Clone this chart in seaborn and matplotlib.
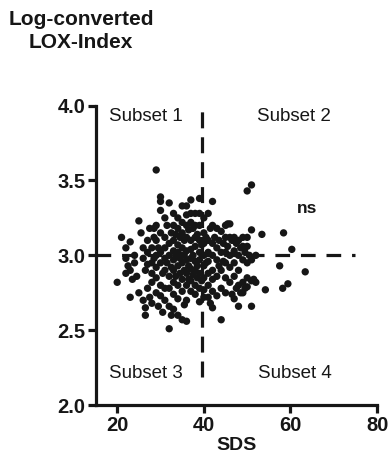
import matplotlib
matplotlib.use("Agg")
import matplotlib.pyplot as plt
import seaborn as sns
import pandas as pd

sds = [
    20, 21, 22, 22, 22.5, 23, 23, 23, 23.5, 24, 24, 24.5, 22,
    25, 25.5, 25, 26, 26, 26, 26.5, 26.5, 26.5, 27, 27, 27, 27, 27.5, 27.5, 28, 28, 28, 28, 28, 28.5, 28.5, 28.5,
    29, 29, 29, 29, 29, 29, 29, 29.5, 29.5, 30, 30, 30, 30, 30, 30, 30, 30, 30.5, 30.5, 31, 31, 31, 31, 31, 31, 31, 31.5, 31.5,
    32, 32, 32, 32, 32, 32, 32, 32.5, 32.5, 32.5,
    33, 33, 33, 33, 33, 33, 33, 33, 33, 33.5, 33.5, 33.5, 34, 34, 34, 34, 34, 34, 34, 34, 34.5, 34.5, 34.5,
    35, 35, 35, 35, 35, 35, 35, 35, 35, 35.5, 35.5, 35.5, 36, 36, 36, 36, 36, 36, 36, 36, 36, 36, 36.5, 36.5, 36.5,
    37, 37, 37, 37, 37, 37, 37, 37, 37, 37.5, 37.5, 37.5, 38, 38, 38, 38, 38, 38, 38, 38, 38.5, 38.5, 38.5,
    39, 39, 39, 39, 39, 39, 39, 39, 39, 39.5, 39.5, 40, 40, 40, 40, 40, 40, 40, 40, 40.5, 40.5,
    41, 41, 41, 41, 41, 41, 41, 41.5, 41.5, 42, 42, 42, 42, 42, 42, 42, 42, 42.5, 43, 43, 43, 43, 43, 43.5, 43.5,
    44, 44, 44, 44, 44, 44.5, 44.5,
    45, 45, 45, 45, 45, 45, 45.5, 45.5, 46, 46, 46, 46, 46, 46.5, 46.5, 47, 47, 47, 47, 47, 47.5, 47.5,
    48, 48, 48, 48, 48, 48.5, 48.5,
    49, 49, 49, 49, 49, 49.5, 49.5, 50, 50, 50, 50, 50, 50, 50.5, 51, 51, 51, 51, 51, 51.5, 52, 52, 53.4, 54.2,
    57.5, 58.4, 58.2, 59.4, 60.3, 63.4,
]
lox = [
    2.82, 3.12, 3.05, 2.98, 2.93, 2.90, 3.09, 2.72, 2.84, 3.00, 2.95, 2.86, 2.88,
    3.23, 3.15, 2.75, 2.70, 3.05, 2.98, 2.90, 2.65, 2.60, 3.10, 3.02, 2.94, 2.78, 2.72, 3.18, 3.05, 2.95, 2.88, 2.82, 2.68, 3.18, 2.98, 3.12,
    3.57, 3.20, 3.10, 3.00, 2.92, 2.85, 2.75, 2.66, 3.05, 3.39, 3.36, 3.30, 3.15, 3.02, 2.95, 2.80, 2.73, 2.62, 2.88, 3.25, 3.12, 3.05, 2.98, 2.90, 2.78, 2.70, 3.20, 2.95,
    3.35, 3.08, 3.00, 2.86, 2.78, 2.66, 2.51, 2.60, 3.15, 2.92,
    3.28, 3.20, 3.10, 3.03, 2.97, 2.90, 2.82, 2.74, 2.64, 3.14, 3.00, 2.86, 3.25, 3.18, 3.07, 3.02, 2.93, 2.80, 2.71, 2.60, 3.12, 2.98, 2.88,
    3.33, 3.22, 3.15, 3.05, 3.00, 2.95, 2.84, 2.76, 2.57, 3.10, 2.90, 2.67, 3.33, 3.27, 3.20, 3.12, 3.03, 2.97, 2.88, 2.80, 2.70, 2.56, 3.17, 2.93, 2.84,
    3.37, 3.28, 3.22, 3.10, 3.04, 2.98, 2.91, 2.83, 2.76, 3.18, 3.00, 2.87, 3.28, 3.20, 3.12, 3.06, 2.96, 2.90, 2.80, 2.74, 3.14, 2.93, 2.85,
    3.38, 3.28, 3.20, 3.10, 3.02, 2.97, 2.88, 2.78, 2.69, 3.07, 2.83, 3.25, 3.15, 3.08, 3.00, 2.93, 2.85, 2.77, 2.72, 3.12, 2.95,
    3.28, 3.10, 3.02, 2.96, 2.88, 2.80, 2.72, 3.18, 2.68, 3.36, 3.20, 3.08, 3.00, 2.90, 2.84, 2.76, 2.65, 3.12, 3.18, 3.05, 2.97, 2.86, 2.73, 3.10, 2.93,
    3.16, 3.02, 2.90, 2.78, 2.57, 3.08, 2.96,
    3.20, 3.12, 3.02, 2.95, 2.85, 2.75, 3.21, 3.06, 3.21, 3.12, 3.00, 2.92, 2.82, 3.10, 2.74, 3.12, 3.03, 2.95, 2.86, 2.71, 3.08, 2.78,
    3.10, 3.00, 2.90, 2.80, 2.66, 2.75, 3.05,
    3.12, 3.06, 2.97, 2.82, 2.75, 3.02, 2.78, 3.43, 3.12, 3.06, 2.95, 2.85, 2.79, 3.00, 3.47, 3.17, 2.97, 2.83, 2.66, 2.84, 3.00, 2.82, 3.14, 2.77,
    2.93, 3.15, 2.78, 2.81, 3.04, 2.89,
]

x_ticks = [20, 40, 60, 80]
y_ticks = [2.0, 2.5, 3.0, 3.5, 4.0]
subset_labels = ["Subset 1", "Subset 2", "Subset 3", "Subset 4"]

df = pd.DataFrame({"SDS": sds, "LOX": lox})

sns.set_theme(style="white")
plt.rcParams["font.family"] = ["Liberation Sans", "DejaVu Sans"]

fig = plt.figure(figsize=(3.9, 4.63), dpi=100)
ax = fig.add_axes([0.245, 0.125, 0.722, 0.647])

sns.scatterplot(data=df, x="SDS", y="LOX", ax=ax, color="#161616", s=28,
                edgecolor="none", linewidth=0, zorder=3)

ax.set_xlim(15, 80)
ax.set_ylim(2.0, 4.0)
ax.set_xticks(x_ticks)
ax.set_yticks(y_ticks)
ax.set_yticklabels([f"{v:.1f}" for v in y_ticks])

ax.plot([39.5, 39.5], [2.19, 4.0], color="#161616", lw=2.3,
        linestyle=(0, (5.0, 2.8)), zorder=2)
ax.plot([15, 75], [3.0, 3.0], color="#161616", lw=2.3,
        linestyle=(0, (4.6, 3.4)), zorder=2)

for spine in ["top", "right"]:
    ax.spines[spine].set_visible(False)
for spine in ["left", "bottom"]:
    ax.spines[spine].set_linewidth(2.3)
    ax.spines[spine].set_color("#161616")

ax.tick_params(axis="both", which="major", direction="out", length=6,
               width=2.3, color="#161616", labelsize=14.5, pad=1.5,
               left=True, bottom=True)
for lab in ax.get_xticklabels() + ax.get_yticklabels():
    lab.set_fontweight("bold")
    lab.set_color("#161616")

ax.set_xlabel("SDS", fontsize=14, fontweight="bold", color="#161616", labelpad=2)
ax.set_ylabel("")

pos = [(26.6, 3.93), (60.9, 3.93), (26.6, 2.21), (60.9, 2.21)]
for lab, (px, py) in zip(subset_labels, pos):
    ax.text(px, py, lab, ha="center", va="center", fontsize=13.5, color="#161616")

ax.text(63.9, 3.31, "ns", ha="center", va="center", fontsize=12.5,
        fontweight="bold", color="#161616")

fig.text(81 / 390, 1 - 31 / 463, "Log-converted\nLOX-Index", ha="center",
         va="center", fontsize=15, fontweight="bold", color="#161616",
         linespacing=1.3)

fig.savefig("out.png", dpi=100, facecolor="white")
